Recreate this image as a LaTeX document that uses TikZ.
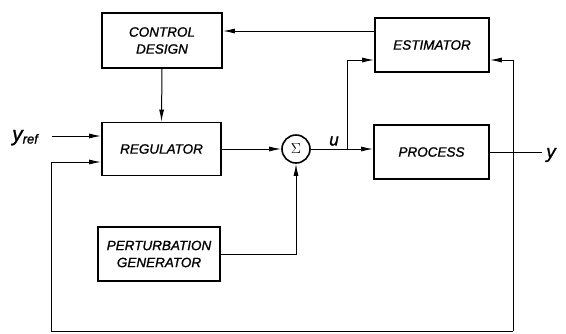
\documentclass[tikz,border=0pt]{standalone}
\usepackage{fontspec}
\setmainfont{Liberation Sans}[ItalicFeatures={FakeBold=1.2}]
\usetikzlibrary{arrows.meta,calc}
\begin{document}
\begin{tikzpicture}[x=1pt,y=-1pt,
  blk/.style={draw,line width=1.8pt,rectangle,inner sep=0pt,align=center,
    font=\fontsize{13.5}{17}\selectfont\itshape},
  arr/.style={line width=1pt,-{Latex[length=12pt,width=5pt]}},
  ln/.style={line width=1pt}]
\useasboundingbox (0,0) rectangle (566,333);
% blocks
\node[blk,minimum width=120pt,minimum height=55pt] (cd) at (162,40.5) {CONTROL\\DESIGN};
\node[blk,minimum width=119pt,minimum height=53pt] (reg) at (161.5,149) {REGULATOR};
\node[blk,minimum width=114pt,minimum height=54pt] (est) at (432,45) {ESTIMATOR};
\node[blk,minimum width=115pt,minimum height=54pt] (proc) at (431.5,152) {PROCESS};
\node[blk,minimum width=122pt,minimum height=54pt] (pg) at (159,254) {PERTURBATION\\GENERATOR};
\node[draw,circle,line width=1.6pt,minimum size=28pt,inner sep=0pt,font=\fontsize{14}{14}\selectfont] (sum) at (296,149) {$\Sigma$};
% labels
\node[anchor=base west,inner sep=0pt] (yref) at (12,141)
  {{\fontsize{21}{21}\selectfont\itshape y}\raisebox{-2.5pt}{\fontsize{13}{13}\selectfont\itshape ref}};
\node[inner sep=0pt,font=\fontsize{17}{17}\selectfont\itshape] (ulab) at (334,141) {u};
\node[inner sep=0pt,font=\fontsize{19}{19}\selectfont\itshape] (ylab) at (551,155) {y};
% coordinates
\coordinate (yrs) at (52,136);
\coordinate (fbin) at (0,162);
\coordinate (ein) at (0,60);
\coordinate (ubr) at (347,149);
\coordinate (tapT) at (513,60);
\coordinate (tapB) at (513,331);
\coordinate (fbl) at (51,331);
\coordinate (yend) at (542,152);
\coordinate (cdin) at (0,31);
% connectors
\draw[arr] (yrs) -- (reg.west |- yrs);
\draw[arr] (cd.south) -- (reg.north);
\draw[arr] (reg.east |- sum) -- (sum.west);
\draw[arr] (sum.east) -- (proc.west |- sum);
\draw[arr] (ubr) |- (est.west |- ein);
\draw[arr] (est.west |- cdin) -- (cd.east |- cdin);
\draw[arr] (pg.east) -| (sum.south);
\draw[ln] (proc.east) -- (yend);
\draw[arr] (tapB) -- (tapT) -- (est.east |- tapT);
\draw[arr] (tapB) -- (fbl) -- (fbl |- fbin) -- (reg.west |- fbin);
\end{tikzpicture}
\end{document}
